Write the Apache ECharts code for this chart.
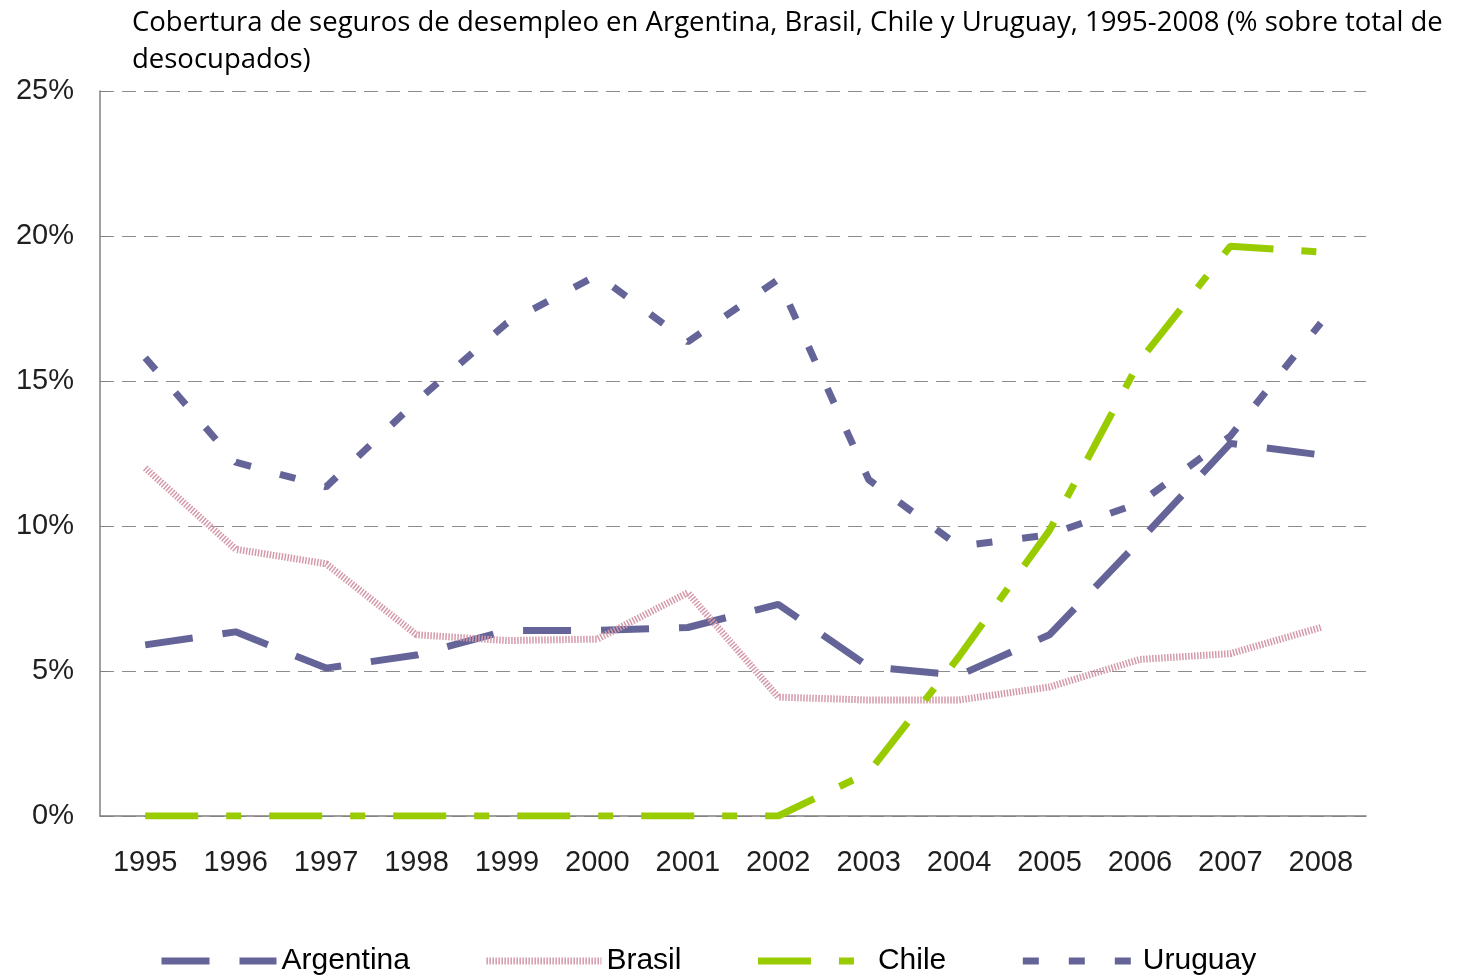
<!DOCTYPE html>
<html>
<head>
<meta charset="utf-8">
<script src="https://cdn.jsdelivr.net/npm/echarts@6/dist/echarts.min.js"></script>
<style>
  html, body { margin: 0; padding: 0; background: #fff; }
  #chart { width: 1466px; height: 977px; }
</style>
</head>
<body>
<div id="chart"></div>
<script>
const years = ['1995', '1996', '1997', '1998', '1999', '2000', '2001', '2002', '2003', '2004', '2005', '2006', '2007', '2008'];
const argentina = [5.9, 6.35, 5.1, 5.55, 6.4, 6.4, 6.5, 7.3, 5.15, 4.85, 6.25, 9.5, 12.85, 12.45];
const brasil = [12.0, 9.2, 8.7, 6.25, 6.05, 6.1, 7.7, 4.1, 4.0, 4.0, 4.45, 5.4, 5.6, 6.5];
const chile = [0, 0, 0, 0, 0, 0, 0, 0, 1.5, 5.5, 9.85, 15.7, 19.65, 19.45];
const uruguay = [15.8, 12.2, 11.35, 14.3, 17.0, 18.65, 16.35, 18.5, 11.6, 9.3, 9.7, 10.8, 13.1, 17.0];
const yTicks = [0, 5, 10, 15, 20, 25];

const chart = echarts.init(document.getElementById('chart'));

const purple = '#646499';
const green = '#99cc00';

chart.setOption({
    animation: false,
    title: {
        text: 'Cobertura de seguros de desempleo en Argentina, Brasil, Chile y Uruguay, 1995-2008 (% sobre total de\ndesocupados)',
        left: 127,
        top: 0,
        textStyle: {
            fontFamily: 'Open Sans',
            fontWeight: 'normal',
            fontSize: 27.5,
            lineHeight: 37,
            color: '#000',
        },
    },
    legend: {
        left: 153,
        top: 941,
        itemWidth: 115,
        itemHeight: 14,
        itemGap: 73,
        itemStyle: { opacity: 0 },
        lineStyle: { width: 7 },
        textStyle: {
            fontFamily: 'Liberation Sans',
            fontSize: 30,
            color: '#000',
        },
        data: ['Argentina', 'Brasil', 'Chile', 'Uruguay'],
    },
    grid: {
        left: 100,
        right: 100,
        top: 91,
        bottom: 161,
    },
    xAxis: {
        type: 'category',
        data: years,
        boundaryGap: true,
        axisLine: { lineStyle: { color: '#808080', width: 1.5 } },
        axisTick: { show: false },
        axisLabel: {
            margin: 32,
            fontFamily: 'Liberation Sans',
            fontSize: 29,
            color: '#1f1f1f',
        },
    },
    yAxis: {
        type: 'value',
        min: yTicks[0],
        max: yTicks[yTicks.length - 1],
        interval: 5,
        axisLine: { show: true, lineStyle: { color: '#808080', width: 1.5 } },
        axisTick: { show: true, inside: true, length: 9, lineStyle: { color: '#808080' } },
        axisLabel: {
            margin: 26,
            formatter: '{value}%',
            fontFamily: 'Liberation Sans',
            fontSize: 29,
            color: '#1f1f1f',
        },
        splitLine: {
            lineStyle: { color: '#8c8c8c', type: [14, 8], width: 1 },
        },
    },
    series: [
        {
            name: 'Argentina',
            type: 'line',
            data: argentina,
            symbol: 'none',
            itemStyle: { color: purple },
            lineStyle: { color: purple, width: 7, type: [48, 30] },
        },
        {
            name: 'Brasil',
            type: 'line',
            data: brasil,
            symbol: 'none',
            itemStyle: { color: '#d49aaa' },
            lineStyle: { color: '#d49aaa', width: 7, type: [1.5, 1.5] },
        },
        {
            name: 'Chile',
            type: 'line',
            data: chile,
            symbol: 'none',
            itemStyle: { color: green },
            lineStyle: { color: green, width: 7, type: [53, 28, 15, 28] },
        },
        {
            name: 'Uruguay',
            type: 'line',
            data: uruguay,
            symbol: 'none',
            itemStyle: { color: purple },
            lineStyle: { color: purple, width: 7, type: [16, 30] },
        },
    ],
});
</script>
</body>
</html>
